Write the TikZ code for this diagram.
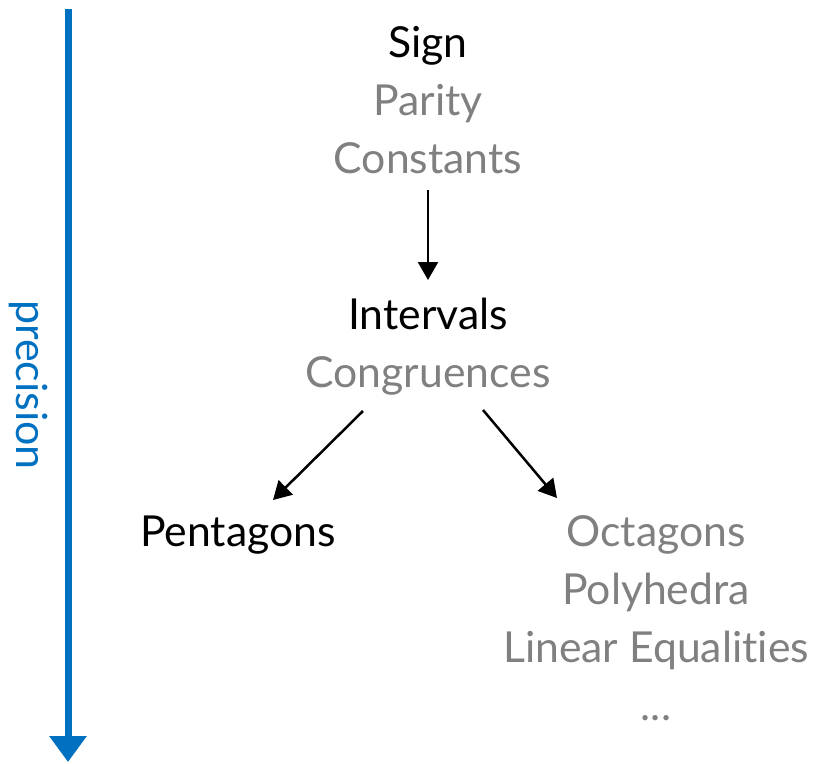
\documentclass[tikz,border=0pt]{standalone}
\usepackage{fontspec}
\setmainfont{Lato}[Ligatures={NoCommon}]
\usetikzlibrary{arrows.meta}
\definecolor{precblue}{RGB}{0,112,192}
\definecolor{dimgray}{RGB}{128,128,128}
\tikzset{
  lbl/.style={anchor=base, inner sep=0pt, font=\fontsize{42.7}{52}\selectfont},
  main/.style={lbl, text=black},
  alt/.style={lbl, text=dimgray},
  conn/.style={draw=black, line width=2.5pt, -{Triangle[width=20pt,length=18pt]}},
}
\begin{document}
\begin{tikzpicture}[x=1pt,y=-1pt]
\useasboundingbox (0,0) rectangle (813,763);
% precision axis
\coordinate (ptop) at (68,9);
\coordinate (pbot) at (68,762);
\draw[precblue, line width=7pt, -{Triangle[width=36pt,length=26pt]}] (ptop) -- (pbot);
\node[text=precblue, font=\fontsize{43}{50}\selectfont, rotate=-90, inner sep=0pt] (prec) at (28,385) {precision};
% top group
\node[main] (sign) at (428,57) {Sign};
\node[alt] (parity) at (428,115) {Parity};
\node[alt] (const) at (428,173) {Constants};
% middle group
\node[main] (interv) at (428,329) {Intervals};
\node[alt] (congr) at (428,387) {Congruences};
% bottom left
\node[main] (penta) at (238,546) {Pentagons};
% bottom right
\node[alt] (octa) at (656,546) {Octagons};
\node[alt] (poly) at (656,604) {Polyhedra};
\node[alt] (lineq) at (656,662) {Linear Equalities};
\node[alt] (dots) at (656,720) {...};
% connectors
\coordinate (a1s) at (428,190);
\coordinate (a1e) at (428,280);
\coordinate (a2s) at (363,411);
\coordinate (a2e) at (273,500);
\coordinate (a3s) at (483,410);
\coordinate (a3e) at (557,498);
\draw[conn] (a1s) -- (a1e);
\draw[conn] (a2s) -- (a2e);
\draw[conn] (a3s) -- (a3e);
\end{tikzpicture}
\end{document}
